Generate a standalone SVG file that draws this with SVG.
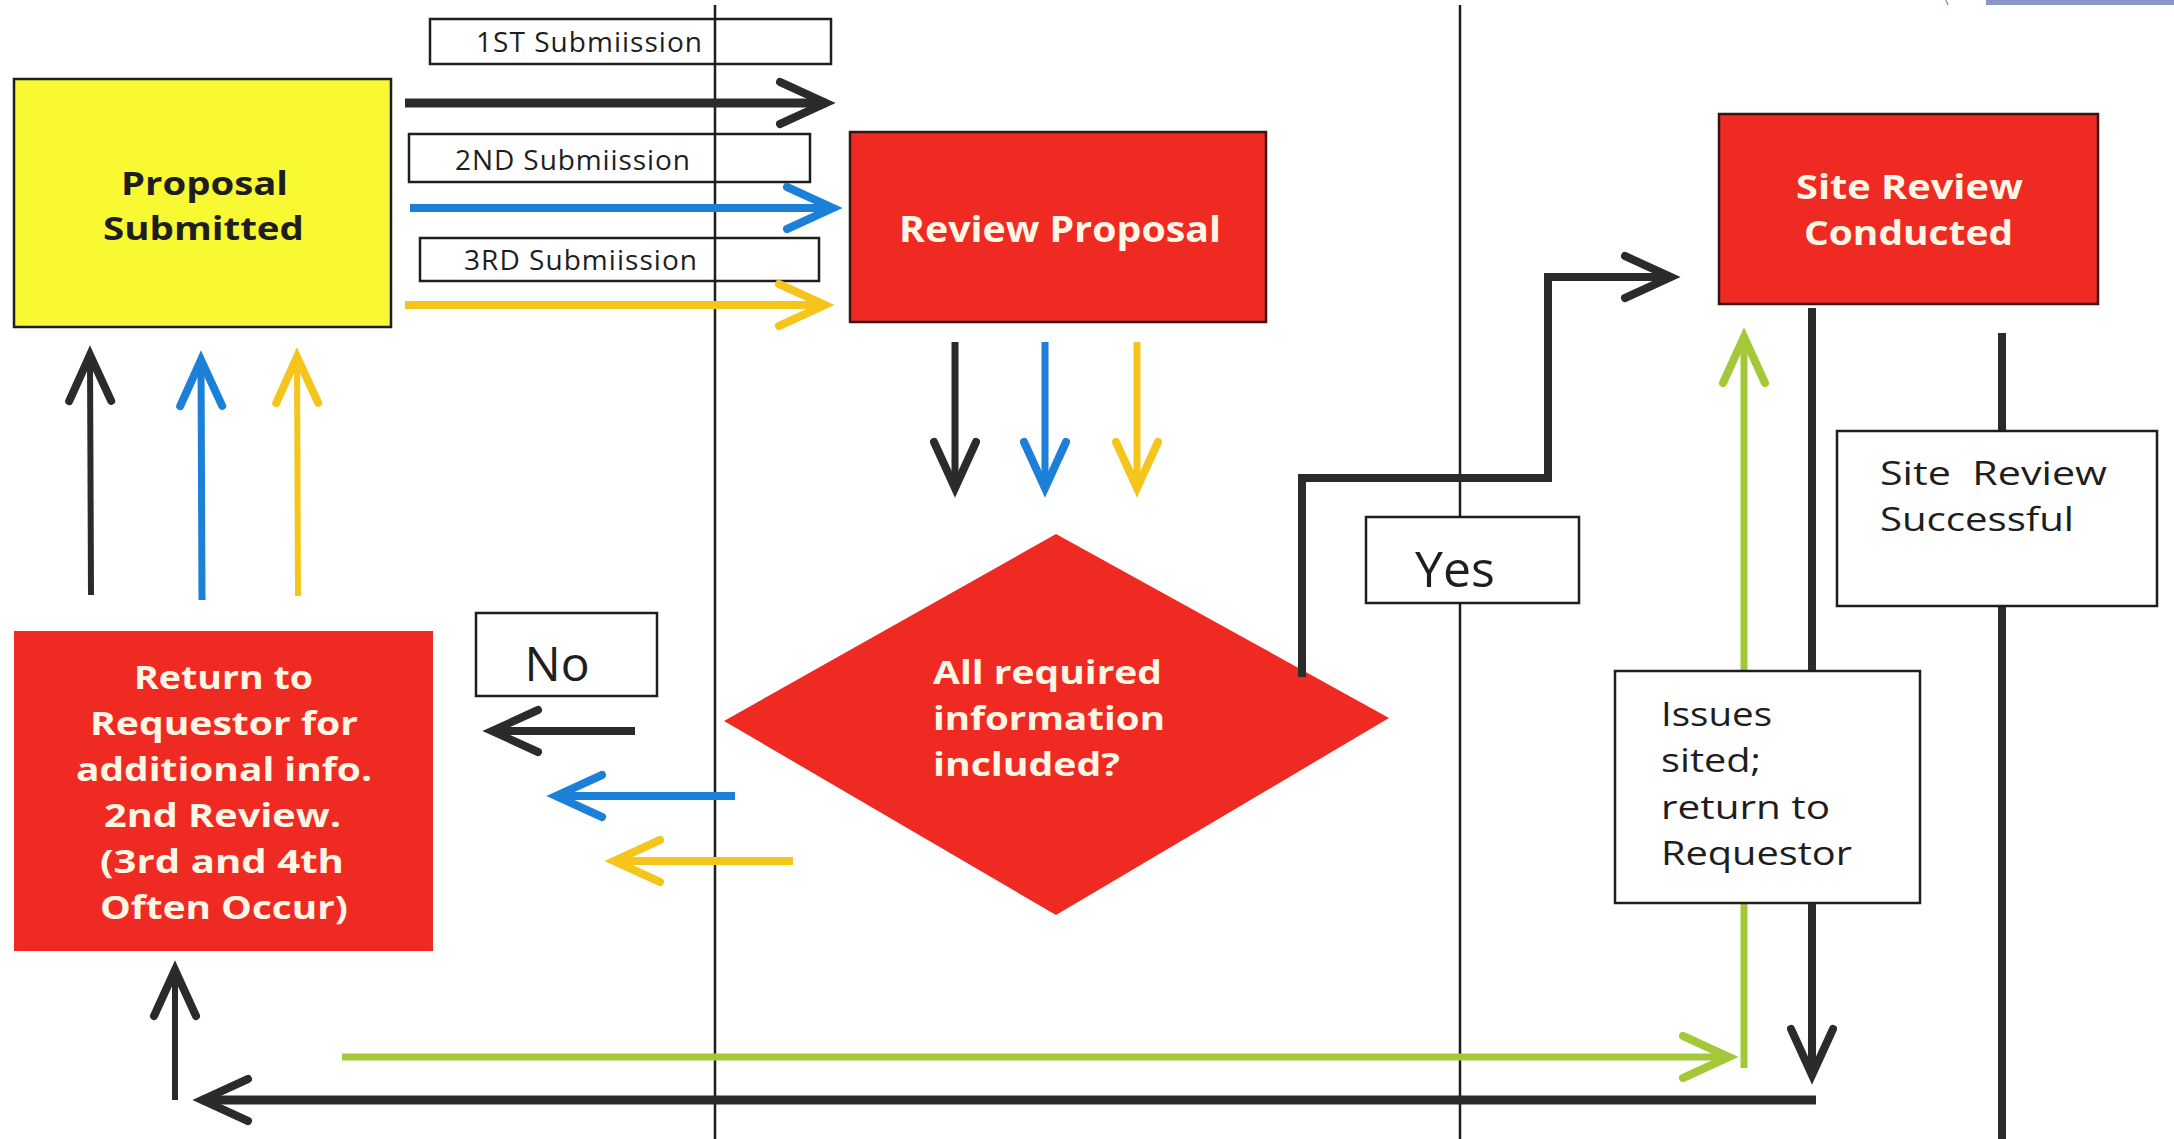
<svg xmlns="http://www.w3.org/2000/svg" width="2174" height="1139" viewBox="0 0 2174 1139">
<style>
.sep{stroke:#1e1e1e;stroke-width:2.5;fill:none}
.lbl{fill:#fff;stroke:#1e1e1e;stroke-width:2.5}
.red{fill:#ef2a23}
.redb{fill:#ef2a23;stroke:#3a1414;stroke-width:2.5}
.wt{font-family:"Open Sans","Liberation Sans",sans-serif;font-weight:700;fill:#fff6e6}
.dk{font-family:"Open Sans","Liberation Sans",sans-serif;fill:#1e1e1e}
.k{stroke:#2b2b2b;fill:none}
.b{stroke:#1c7fd8;fill:none}
.y{stroke:#f6c51b;fill:none}
.g{stroke:#a3c93a;fill:none}
</style>
<defs>
<marker id="mk" markerUnits="userSpaceOnUse" markerWidth="80" markerHeight="80" viewBox="-60 -40 80 80" refX="0" refY="0" orient="auto" overflow="visible"><path d="M-46,-21 L0,0 L-46,21" fill="none" stroke="#2b2b2b" stroke-width="8" stroke-linecap="round"/></marker>
<marker id="mb" markerUnits="userSpaceOnUse" markerWidth="80" markerHeight="80" viewBox="-60 -40 80 80" refX="0" refY="0" orient="auto" overflow="visible"><path d="M-46,-21 L0,0 L-46,21" fill="none" stroke="#1c7fd8" stroke-width="8" stroke-linecap="round"/></marker>
<marker id="my" markerUnits="userSpaceOnUse" markerWidth="80" markerHeight="80" viewBox="-60 -40 80 80" refX="0" refY="0" orient="auto" overflow="visible"><path d="M-46,-21 L0,0 L-46,21" fill="none" stroke="#f6c51b" stroke-width="8" stroke-linecap="round"/></marker>
<marker id="mg" markerUnits="userSpaceOnUse" markerWidth="80" markerHeight="80" viewBox="-60 -40 80 80" refX="0" refY="0" orient="auto" overflow="visible"><path d="M-46,-21 L0,0 L-46,21" fill="none" stroke="#a3c93a" stroke-width="8" stroke-linecap="round"/></marker>
</defs>
<rect width="2174" height="1139" fill="#ffffff"/>
<rect x="1986" y="0" width="188" height="5" fill="#8a95cc"/>
<path d="M1946,0 Q1947,3 1948,5" stroke="#8a95cc" stroke-width="1.5" fill="none"/>

<g id="label-1st"><rect class="lbl" x="430" y="19" width="401" height="45"/><text class="dk" x="476" y="52" font-size="28" textLength="226" lengthAdjust="spacing">1ST Submiission</text></g>
<g id="label-2nd"><rect class="lbl" x="409" y="134" width="401" height="48"/><text class="dk" x="455" y="170" font-size="28" textLength="235" lengthAdjust="spacing">2ND Submiission</text></g>
<g id="label-3rd"><rect class="lbl" x="420" y="238" width="399" height="43"/><text class="dk" x="464" y="270" font-size="28" textLength="233" lengthAdjust="spacing">3RD Submiission</text></g>

<g id="lanes">
<line class="sep" x1="715" y1="5" x2="715" y2="1139"/>
<line class="sep" x1="1460" y1="5" x2="1460" y2="1139"/>
</g>

<g id="connectors">
<line class="k" stroke-width="9" x1="405" y1="103" x2="826" y2="103" marker-end="url(#mk)"/>
<line class="b" stroke-width="8" x1="410" y1="208" x2="833" y2="208" marker-end="url(#mb)"/>
<line class="y" stroke-width="8" x1="405" y1="305" x2="825" y2="305" marker-end="url(#my)"/>
<line class="k" stroke-width="7" x1="955" y1="342" x2="955" y2="488" marker-end="url(#mk)"/>
<line class="b" stroke-width="7" x1="1045" y1="342" x2="1045" y2="488" marker-end="url(#mb)"/>
<line class="y" stroke-width="7" x1="1137" y1="342" x2="1137" y2="488" marker-end="url(#my)"/>
<line class="k" stroke-width="6" x1="91" y1="595" x2="90" y2="355" marker-end="url(#mk)"/>
<line class="b" stroke-width="7" x1="202" y1="600" x2="201" y2="360" marker-end="url(#mb)"/>
<line class="y" stroke-width="6" x1="298" y1="596" x2="297" y2="357" marker-end="url(#my)"/>
<line class="k" stroke-width="8" x1="635" y1="731" x2="492" y2="731" marker-end="url(#mk)"/>
<line class="b" stroke-width="8" x1="735" y1="796" x2="556" y2="796" marker-end="url(#mb)"/>
<line class="y" stroke-width="8" x1="793" y1="861" x2="614" y2="861" marker-end="url(#my)"/>
<line class="k" stroke-width="8" x1="2002" y1="333" x2="2002" y2="1139"/>
<line class="k" stroke-width="8" x1="1812" y1="308" x2="1812" y2="1075" marker-end="url(#mk)"/>
<line class="g" stroke-width="7" x1="1744" y1="1068" x2="1744" y2="337" marker-end="url(#mg)"/>
<line class="g" stroke-width="7" x1="342" y1="1057" x2="1729" y2="1057" marker-end="url(#mg)"/>
<line class="k" stroke-width="9" x1="1816" y1="1100" x2="202" y2="1100" marker-end="url(#mk)"/>
<line class="k" stroke-width="6" x1="175" y1="1100" x2="175" y2="970" marker-end="url(#mk)"/>
</g>

<g id="proposal-submitted"><rect x="14" y="79" width="377" height="248" fill="#f8f833" stroke="#1e1e1e" stroke-width="2.5"/>
<text class="dk" font-weight="700" font-size="33" x="121" y="195" fill="#2a2a10" textLength="167" lengthAdjust="spacingAndGlyphs">Proposal</text>
<text class="dk" font-weight="700" font-size="33" x="103" y="240" fill="#2a2a10" textLength="201" lengthAdjust="spacingAndGlyphs">Submitted</text></g>

<g id="review-proposal"><rect class="redb" x="850" y="132" width="416" height="190"/>
<text class="wt" font-size="36" x="899" y="242" textLength="322" lengthAdjust="spacingAndGlyphs">Review Proposal</text></g>

<g id="decision"><polygon class="red" points="1056,534 1389,718 1056,915 724,721"/>
<text class="wt" font-size="33" x="933" y="684" textLength="229" lengthAdjust="spacingAndGlyphs">All required</text>
<text class="wt" font-size="33" x="933" y="730" textLength="232" lengthAdjust="spacingAndGlyphs">information</text>
<text class="wt" font-size="33" x="933" y="776" textLength="187" lengthAdjust="spacingAndGlyphs">included?</text></g>

<g id="yes-connector"><path class="k" stroke-width="8" d="M1302,677 V478 H1548 V277 H1671" marker-end="url(#mk)"/></g>

<g id="no-label"><rect class="lbl" x="476" y="613" width="181" height="83"/><text class="dk" x="557" y="681" font-size="48" text-anchor="middle">No</text></g>
<g id="yes-label"><rect class="lbl" x="1366" y="517" width="213" height="86"/><text class="dk" x="1455" y="587" font-size="50" text-anchor="middle">Yes</text></g>

<g id="return-requestor"><rect class="red" x="14" y="631" width="419" height="320"/>
<g class="wt" font-size="33" lengthAdjust="spacingAndGlyphs">
<text x="134" y="689" textLength="179" lengthAdjust="spacingAndGlyphs">Return to</text>
<text x="90" y="735" textLength="268" lengthAdjust="spacingAndGlyphs">Requestor for</text>
<text x="76" y="781" textLength="296" lengthAdjust="spacingAndGlyphs">additional info.</text>
<text x="104" y="827" textLength="237" lengthAdjust="spacingAndGlyphs">2nd Review.</text>
<text x="100" y="873" textLength="244" lengthAdjust="spacingAndGlyphs">(3rd and 4th</text>
<text x="100" y="919" textLength="248" lengthAdjust="spacingAndGlyphs">Often Occur)</text>
</g></g>

<g id="site-review-conducted"><rect class="redb" x="1719" y="114" width="379" height="190"/>
<text class="wt" font-size="34" x="1796" y="199" textLength="227" lengthAdjust="spacingAndGlyphs">Site Review</text>
<text class="wt" font-size="34" x="1804" y="245" textLength="209" lengthAdjust="spacingAndGlyphs">Conducted</text></g>

<g id="site-review-successful"><rect class="lbl" x="1837" y="431" width="320" height="175"/>
<text class="dk" font-size="33" x="1880" y="485" xml:space="preserve" textLength="227" lengthAdjust="spacingAndGlyphs">Site  Review</text>
<text class="dk" font-size="33" x="1880" y="531" textLength="194" lengthAdjust="spacingAndGlyphs">Successful</text></g>

<g id="issues"><rect class="lbl" x="1615" y="671" width="305" height="232"/>
<g class="dk" font-size="33">
<text x="1661" y="726" textLength="111" lengthAdjust="spacingAndGlyphs">Issues</text>
<text x="1661" y="772" textLength="100" lengthAdjust="spacingAndGlyphs">sited;</text>
<text x="1661" y="819" textLength="169" lengthAdjust="spacingAndGlyphs">return to</text>
<text x="1661" y="865" textLength="191" lengthAdjust="spacingAndGlyphs">Requestor</text>
</g></g>
</svg>
